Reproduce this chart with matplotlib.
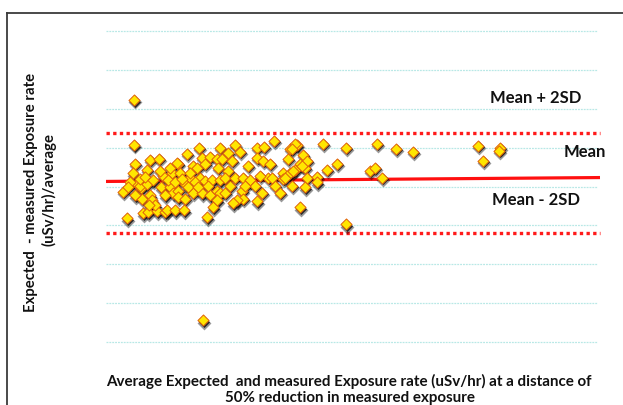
import matplotlib
matplotlib.use("Agg")
import matplotlib.pyplot as plt
import matplotlib.transforms as mtransforms
from matplotlib.lines import Line2D

# Average exposure (arbitrary units) and relative difference
avg_exposure = [
    2.8, 2.8, 2.9, 2.7, 1.7, 2.1, 4.4, 5.3, 4.1, 3.1, 3.5, 3.6, 4.4, 4.6, 3.7, 4.2, 5.1, 5.5, 3.4, 4.1,
    3.4, 2.4, 3.9, 4.7, 2.9, 2.2, 4.9, 4.3, 5.9, 5.7, 6.6, 7.2, 7.4, 6.4, 6.7, 7.2, 7.2, 6.1, 6.9, 7.8,
    8.1, 8.4, 8.7, 9.1, 9.3, 9.6, 9.9, 10.4, 11.1, 9.4, 8.7, 9.6, 10.4, 11.1, 11.4, 11.9, 10.7, 10.1, 11.1, 7.1,
    6.2, 6.9, 7.9, 8.9, 9.9, 10.6, 11.4, 7.6, 8.2, 9.2, 10.2, 5.9, 7.9, 5.4, 6.4, 8.4, 11.4, 12.2, 12.9, 13.4,
    11.2, 12.2, 11.9, 12.9, 13.7, 13.6, 13.7, 13.1, 12.7, 15.1, 15.1, 15.8, 15.1, 15.7, 16.4, 16.8, 16.2, 16.9, 17.4, 17.7,
    18.6, 18.2, 18.4, 19.1, 19.7, 19.4, 19.9, 19.4, 18.9, 19.9, 18.4, 17.7, 12.4, 14.4, 14.9, 14.2, 12.6, 11.6, 15.4, 16.6,
    17.9, 18.7, 20.1, 20.1, 19.6, 18.9, 18.6, 21.1, 21.1, 22.1, 23.1, 21.7, 24.0, 24.0, 26.4, 26.9, 27.6, 27.1, 29.0, 30.7,
    37.2, 37.7, 39.4, 39.3, 9.7, 15.6, 13.9,
]
rel_diff = [
    0.446, 0.215, 0.118, 0.067, -0.026, -0.164, 0.138, 0.144, 0.087, 0.015, -0.010, -0.062, -0.046, -0.072, -0.138, -0.133, -0.128, -0.005, 0.005, 0.015,
    0.041, 0.021, 0.051, 0.031, -0.046, 0.0, -0.097, -0.097, -0.133, 0.056, 0.067, 0.118, 0.072, -0.005, -0.031, -0.021, -0.056, -0.123, -0.123, -0.123,
    0.169, 0.046, 0.108, 0.097, 0.200, 0.149, 0.118, 0.154, 0.144, 0.046, -0.031, -0.036, -0.046, -0.021, -0.036, -0.031, -0.108, -0.159, -0.072, 0.123,
    0.031, 0.021, 0.015, 0.021, 0.026, 0.031, 0.031, 0.041, -0.005, -0.005, 0.005, -0.046, -0.062, 0.082, 0.097, 0.072, 0.200, 0.174, 0.215, 0.180,
    0.097, 0.082, 0.046, 0.046, 0.046, -0.021, -0.062, -0.072, -0.087, -0.077, 0.200, 0.205, 0.149, 0.133, 0.118, 0.236, 0.046, 0.005, -0.031, 0.067,
    0.005, 0.144, 0.195, 0.215, 0.164, 0.118, 0.097, -0.108, 0.087, -0.005, 0.067, 0.041, 0.005, 0.031, 0.005, 0.108, 0.133, 0.144, 0.056, 0.046,
    0.046, 0.082, 0.046, 0.133, 0.108, 0.221, 0.195, 0.051, 0.021, 0.087, 0.118, 0.221, 0.200, -0.195, 0.082, 0.097, 0.046, 0.221, 0.195, 0.180,
    0.210, 0.133, 0.200, 0.185, -0.687, -0.031, 0.005,
]

mean_line_x = [0.0, 49.4]
mean_line_y = [0.026, 0.046]
upper_limit = 0.277
lower_limit = -0.241
grid_levels = [0.8, 0.6, 0.4, 0.2, 0.0, -0.2, -0.4, -0.6, -0.8]

W, H = 623, 405
fig = plt.figure(figsize=(W / 100, H / 100), dpi=100)

# frame
fig.add_artist(Line2D([7 / W, 1.0], [1 - 13 / H, 1 - 13 / H], transform=fig.transFigure,
                      color="#3a3a3a", lw=1.3))
fig.add_artist(Line2D([7 / W, 7 / W], [0.0, 1 - 13 / H], transform=fig.transFigure,
                      color="#3a3a3a", lw=1.3))

ax = fig.add_axes([106 / W, (H - 342) / H, (600 - 106) / W, (342 - 31) / H])
ax.set_xlim(0, 49.4)
ax.set_ylim(-0.8, 0.8)
ax.axis("off")

for g in grid_levels:
    ax.plot([0, 49.1], [g, g], color="#b8e8e6", lw=0.9, ls=(0, (1.5, 0.8)),
            clip_on=False, zorder=1)

ax.plot([0, 49.4], [upper_limit, upper_limit], color="#ff1a1a", lw=2.4,
        ls=(0, (1, 1.0)), dash_capstyle="butt", clip_on=False, zorder=2)
ax.plot([0, 49.4], [lower_limit, lower_limit], color="#ff1a1a", lw=2.4,
        ls=(0, (1, 1.0)), dash_capstyle="butt", clip_on=False, zorder=2)
ax.plot(mean_line_x, mean_line_y, color="#ff1010", lw=2.3, solid_capstyle="butt",
        clip_on=False, zorder=3)

# shadows
sh1 = mtransforms.offset_copy(ax.transData, fig=fig, x=0.8, y=-2.6, units="dots")
sh2 = mtransforms.offset_copy(ax.transData, fig=fig, x=0.5, y=-1.8, units="dots")
ax.scatter(avg_exposure, rel_diff, marker="D", s=50, color="#000000", alpha=0.4,
           linewidths=0, transform=sh1, zorder=4, clip_on=False)
ax.scatter(avg_exposure, rel_diff, marker="D", s=32, color="#111111", alpha=0.8,
           linewidths=0, transform=sh2, zorder=4, clip_on=False)
ax.scatter(avg_exposure, rel_diff, marker="D", s=32, color="#ffe600",
           edgecolors="#e0600c", linewidths=0.7, zorder=5, clip_on=False)

font = "Lato"
lab_kw = dict(ha="center", va="center", fontsize=12, fontweight="bold", family=font,
              color="#111111")
ax.text(43.0, 0.456, "Mean + 2SD", **lab_kw)
ax.text(47.9, 0.180, "Mean", **lab_kw)
ax.text(43.0, -0.067, "Mean - 2SD", **lab_kw)

fig.text(349 / W, 1 - 381 / H,
         "Average Expected  and measured Exposure rate (uSv/hr) at a distance of",
         ha="center", va="center", fontsize=10.9, fontweight="bold", family=font, color="#111111")
fig.text(350 / W, 1 - 398 / H, "50% reduction in measured exposure",
         ha="center", va="center", fontsize=10.9, fontweight="bold", family=font, color="#111111")

fig.text(31 / W, 1 - 192 / H, "Expected  - measured Exposure rate",
         ha="center", va="center", rotation=90, fontsize=10.7, fontweight="bold",
         family=font, color="#111111")
fig.text(49 / W, 1 - 190 / H, "(uSv/hr)/average",
         ha="center", va="center", rotation=90, fontsize=10.7, fontweight="bold",
         family=font, color="#111111")

fig.savefig("out.png", dpi=100)
